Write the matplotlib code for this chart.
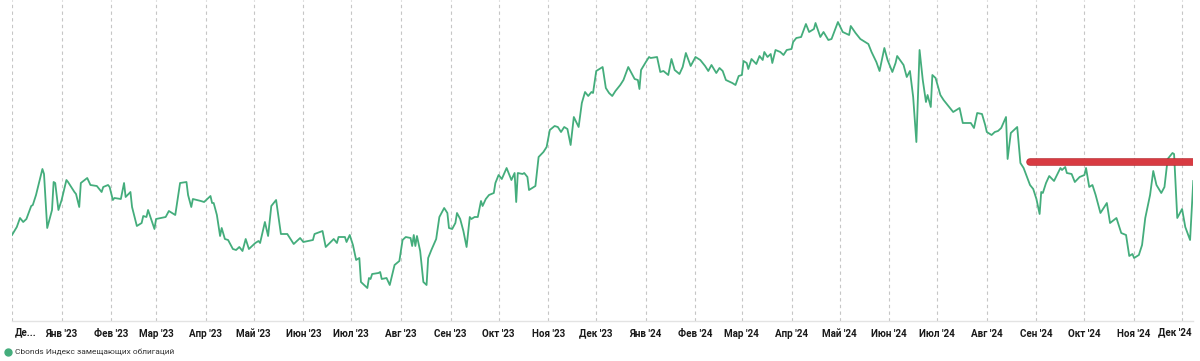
import matplotlib
matplotlib.use("Agg")
import matplotlib.pyplot as plt
import matplotlib.patheffects as pe
from matplotlib.lines import Line2D
import pandas as pd

START = pd.Timestamp("2022-12-01")

# days since 2022-12-01 and index level (arbitrary units)
days = [
    0, 3, 5, 7, 9, 12, 13, 15, 19, 20, 22, 25, 26, 27, 29, 31, 34, 35, 39, 40,
    42, 43, 47, 49, 53, 56, 57, 60, 61, 63, 64, 68, 70, 71, 74, 75, 78, 81, 82, 84,
    85, 89, 90, 96, 98, 102, 105, 109, 110, 112, 113, 118,
    120, 124, 125, 126, 128, 130, 131, 133, 135, 138, 140, 142, 144, 146, 148, 152,
    154, 155, 158, 160, 162, 165, 168, 172, 176, 180, 182, 188, 189, 194, 196, 201,
    203, 204, 208, 209, 211, 213, 215, 217, 218, 222, 223, 224, 225, 229, 230, 231,
    234, 236, 239, 242,
    244, 246, 249, 250, 251, 252, 253, 255, 257, 259, 260, 262, 265, 267, 270, 272,
    273, 275, 277, 278, 280, 282, 284, 286, 287, 289, 291, 293, 294, 296, 298, 301,
    302, 304, 306, 309, 312, 314, 315, 316, 319, 320, 322, 323, 327, 329, 332, 334,
    336, 339, 341, 343, 345, 347, 349, 351, 354, 356, 358, 360, 362, 363, 365, 368,
    369, 371, 373, 375, 377, 380, 382, 385, 387, 389, 391, 392, 393, 396, 398, 399,
    403, 405, 407, 410, 412, 414, 417, 419, 421, 424, 427, 430, 433, 435, 437, 440,
    442, 444, 446, 450, 452, 454, 456, 457, 459, 460, 462, 465, 467, 469, 470, 472,
    474, 475, 477, 480, 482, 484, 487, 488, 490, 493,
    496, 498, 501, 502, 505, 507, 510, 512, 516, 519, 523, 524, 527, 530, 532, 535,
    537, 540, 542, 545, 547, 550, 552, 553, 557, 559, 561, 563, 565, 567, 569, 571,
    572, 574, 575, 577, 580, 582, 585, 588, 592, 594, 599, 601, 603, 606, 608, 609,
    612, 614, 616, 618,
    621, 622, 624, 628, 630, 632, 636, 638, 640, 642, 643, 644, 646, 648, 651, 655,
    656, 658, 659, 662, 664, 667, 670, 671, 673, 675, 677, 680, 684, 686, 690, 693,
    696, 698, 700, 701, 704, 706, 708, 711, 713, 715, 718, 720, 722, 725, 726, 728,
    731, 733, 736, 738,
]
levels = [
    86, 94, 103, 99, 102, 115, 116, 126, 152, 147, 93, 111, 139, 138, 111, 121, 141, 139, 129, 127,
    114, 138, 143, 136, 135, 129, 134, 136, 134, 121, 123, 122, 138, 124, 129, 114, 95, 98, 105, 104,
    111, 92, 102, 104, 110, 106, 138, 139, 126, 114, 122, 120,
    119, 125, 118, 118, 106, 85, 93, 82, 81, 72, 71, 74, 70, 82, 72, 78,
    80, 78, 99, 85, 115, 121, 87, 87, 77, 83, 79, 81, 87, 90, 74, 82,
    78, 84, 84, 79, 86, 76, 61, 63, 39, 33, 43, 42, 47, 48, 49, 42,
    43, 36, 56, 60,
    81, 84, 83, 75, 86, 75, 85, 70, 39, 36, 63, 71, 82, 104, 113, 108,
    93, 92, 98, 108, 102, 90, 74, 104, 102, 104, 104, 120, 115, 122, 126, 128,
    138, 146, 142, 153, 141, 148, 119, 148, 147, 148, 144, 131, 135, 164, 169, 174,
    191, 195, 194, 189, 194, 192, 176, 204, 194, 218, 229, 225, 229, 228, 250, 253,
    254, 233, 228, 225, 230, 236, 241, 254, 248, 242, 241, 232, 251, 259, 264, 263,
    264, 249, 250, 246, 262, 251, 247, 254, 268, 255, 264, 261, 255, 250, 256, 248,
    253, 250, 241, 238, 236, 245, 246, 260, 258, 252, 262, 257, 265, 261, 269, 264,
    267, 258, 271, 269, 266, 271, 272, 279, 283, 284,
    297, 289, 292, 298, 284, 289, 281, 282, 299, 289, 286, 295, 288, 282, 280, 277,
    269, 259, 250, 273, 261, 249, 258, 265, 256, 244, 250, 224, 179, 271, 241, 219,
    226, 214, 246, 243, 226, 221, 215, 209, 213, 198, 198, 193, 208, 207, 196, 189,
    186, 189, 190, 193,
    204, 162, 188, 194, 158, 153, 136, 132, 122, 107, 129, 128, 138, 145, 140, 153,
    151, 154, 148, 147, 139, 144, 146, 153, 134, 136, 126, 108, 118, 98, 103, 88,
    86, 65, 67, 63, 66, 76, 103, 126, 150, 136, 128, 134, 162, 168, 167, 103,
    112, 94, 81, 140,
]

# highlighted level (red bar)
level_start_day = 636
level_end_day = 738
level_value = 159

month_labels = [
    "Де...", "Янв '23", "Фев '23", "Мар '23", "Апр '23", "Май '23", "Июн '23",
    "Июл '23", "Авг '23", "Сен '23", "Окт '23", "Ноя '23", "Дек '23", "Янв '24",
    "Фев '24", "Мар '24", "Апр '24", "Май '24", "Июн '24", "Июл '24", "Авг '24",
    "Сен '24", "Окт '24", "Ноя '24", "Дек '24",
]
series_name = "Cbonds Индекс замещающих облигаций"

GREEN = "#44ad7c"
RED = "#d83b42"
FONT = ["Roboto", "DejaVu Sans"]
TICK_SIZE = 7.1

dates = START + pd.to_timedelta(days, unit="D")
month_starts = pd.date_range("2022-12-01", "2024-12-01", freq="MS")

fig = plt.figure(figsize=(12, 3.61), dpi=100)
ax = fig.add_axes([0.01, 0.1108, 0.9844, 0.8892])

ax.plot(dates, levels, color=GREEN, lw=1.3, solid_joinstyle="round")
ax.plot([START + pd.Timedelta(days=level_start_day), START + pd.Timedelta(days=level_end_day)],
        [level_value, level_value], color=RED, lw=4.4, solid_capstyle="round",
        path_effects=[pe.Stroke(linewidth=5.4, foreground="#b8262d"), pe.Normal()])

ax.set_xlim(START, START + pd.Timedelta(days=days[-1]))
ax.set_ylim(0, 321)

ax.set_xticks(month_starts)
ax.set_xticklabels([""] + month_labels[1:-1] + [""], fontsize=TICK_SIZE, fontweight="bold",
                   family=FONT, color="#1a1a1a")
ax.tick_params(axis="x", length=0, pad=5.5)
ax.set_yticks([])
ax.grid(axis="x", color="#c6c6c6", lw=0.8, linestyle=(0, (3, 3)))

# first and last month labels are shifted to stay inside the figure
label_y = 1 - 332 / 361
fig.text(15 / 1200, label_y, month_labels[0], fontsize=TICK_SIZE, fontweight="bold",
         family=FONT, color="#1a1a1a", ha="left", va="center")
fig.text(1192 / 1200, label_y, month_labels[-1], fontsize=TICK_SIZE, fontweight="bold",
         family=FONT, color="#1a1a1a", ha="right", va="center")

for side in ["top", "left", "right"]:
    ax.spines[side].set_visible(False)
ax.spines["bottom"].set_color("#e3e3e3")
ax.spines["bottom"].set_linewidth(1.0)
ax.patch.set_alpha(0)

# legend
legend_y = 1 - 352 / 361
fig.add_artist(Line2D([8 / 1200], [legend_y], transform=fig.transFigure, marker="o",
                      markersize=5, color=GREEN, linestyle="none"))
fig.text(15 / 1200, legend_y, series_name, fontsize=6.0,
         family=FONT, color="#333333", ha="left", va="center")

fig.savefig("out.png", dpi=100, facecolor="white")
